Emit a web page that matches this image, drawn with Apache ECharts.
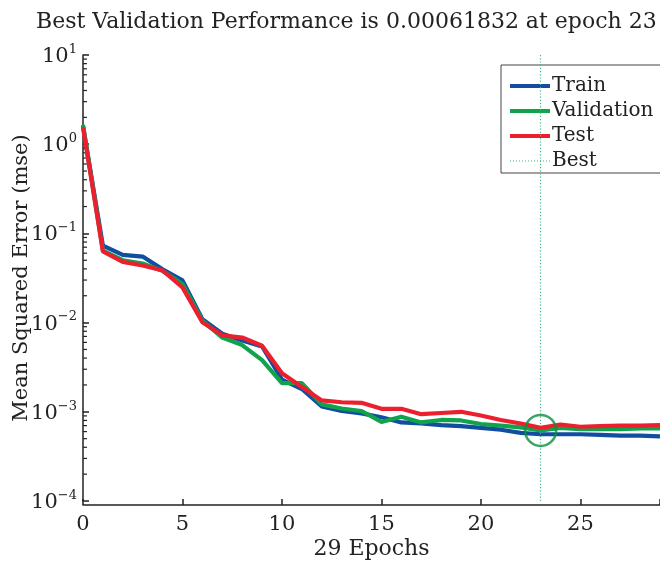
<!DOCTYPE html>
<html>
<head>
<meta charset="utf-8">
<script src="https://cdn.jsdelivr.net/npm/echarts@6/dist/echarts.min.js"></script>
<style>html,body{margin:0;padding:0;background:#fff}#c{width:660px;height:564px}</style>
</head>
<body>
<div id="c"></div>
<script>
const epochs = [0,1,2,3,4,5,6,7,8,9,10,11,12,13,14,15,16,17,18,19,20,21,22,23,24,25,26,27,28,29];
const train = [1.6,0.073,0.0575,0.055,0.0395,0.0297,0.0109,0.0075,0.0063,0.0054,0.0023,0.0018,0.00115,0.00102,0.00096,0.00087,0.00076,0.00074,0.00071,0.00069,0.00066,0.00063,0.00058,0.00056,0.00056,0.00056,0.00055,0.00054,0.00054,0.00053];
const validation = [1.65,0.064,0.05,0.046,0.038,0.027,0.0105,0.0068,0.0056,0.0038,0.0021,0.0021,0.00121,0.00109,0.00102,0.00077,0.00088,0.00076,0.00081,0.0008,0.00073,0.0007,0.00067,0.00061832,0.00066,0.00064,0.00064,0.00064,0.00065,0.00065];
const test = [1.55,0.063,0.048,0.0436,0.0385,0.0248,0.0101,0.0072,0.0068,0.0055,0.0027,0.0019,0.00134,0.00128,0.00126,0.00108,0.00108,0.00094,0.00097,0.001,0.00091,0.00081,0.00074,0.00066,0.00072,0.00068,0.00069,0.0007,0.0007,0.00071];
const bestEpoch = 23;
const bestValue = 0.00061832;
const xTicks = [0,5,10,15,20,25];
const yDecades = [-4,-3,-2,-1,0,1];
const titleText = 'Best Validation Performance is 0.00061832 at epoch 23';
const xName = '29 Epochs';
const yName = 'Mean Squared Error (mse)';
const legendNames = ['Train', 'Validation', 'Test', 'Best'];

// minor tick positions on the log axis (2..9 x 10^n)
const minorTicks = [];
for (let d = -4; d < 1; d++) for (let k = 2; k <= 9; k++) minorTicks.push([0, k * Math.pow(10, d)]);

const FONT = 'DejaVu Serif';
const TXT = '#222';
const sup = {'-4':'−4','-3':'−3','-2':'−2','-1':'−1','0':'0','1':'1'};

const solidIcon = 'path://M0,0H40V4H0Z';
let dots = '';
for (let i = 0; i < 40; i += 3) dots += 'M' + i + ',0h1v1h-1z';
const dottedIcon = 'path://' + dots;

const chart = echarts.init(document.getElementById('c'));
const pairs = arr => epochs.map((e, i) => [e, arr[i]]);
chart.setOption({
  animation: false,
  backgroundColor: '#fff',
  textStyle: {fontFamily: FONT},
  title: {
    text: titleText, left: 31, top: 6,
    textStyle: {fontFamily: FONT, fontSize: 22, fontWeight: 'normal', color: TXT}
  },
  legend: {
    data: [
      {name: legendNames[0], icon: solidIcon},
      {name: legendNames[1], icon: solidIcon},
      {name: legendNames[2], icon: solidIcon},
      {name: legendNames[3], icon: dottedIcon}
    ],
    orient: 'vertical', left: 501, top: 65,
    padding: [11, 20, 2, 9], itemGap: 5, itemWidth: 40, itemHeight: 20,
    borderColor: '#444', borderWidth: 1, backgroundColor: '#fff',
    textStyle: {fontFamily: FONT, fontSize: 20, color: TXT, lineHeight: 20, padding: [0,0,0,-3]}
  },
  grid: {left: 83, right: 0, top: 55, bottom: 63, containLabel: false, outerBoundsMode: 'none'},
  xAxis: {
    type: 'value', min: 0, max: 29, interval: 5, offset: 4,
    name: xName, nameLocation: 'middle', nameGap: 33, nameMoveOverlap: false,
    nameTextStyle: {fontFamily: FONT, fontSize: 22, color: TXT},
    axisLine: {lineStyle: {color: '#222', width: 1.5}},
    axisTick: {inside: true, length: 6, lineStyle: {color: '#222', width: 1.5}},
    axisLabel: {fontFamily: FONT, fontSize: 21, color: TXT, margin: 9,
      formatter: v => xTicks.includes(v) ? String(v) : ''},
    splitLine: {show: false}
  },
  yAxis: {
    type: 'log', logBase: 10, min: 1e-4, max: 10, splitNumber: 5,
    name: yName, nameLocation: 'middle', nameGap: 51, nameRotate: 90, nameMoveOverlap: false,
    nameTextStyle: {fontFamily: FONT, fontSize: 21, color: TXT},
    axisLine: {lineStyle: {color: '#222', width: 1.5}},
    axisTick: {inside: true, length: 6, lineStyle: {color: '#222', width: 1.5}},
    axisLabel: {
      margin: 6, color: TXT,
      formatter: v => {
        const e = Math.round(Math.log10(v));
        if (!yDecades.includes(e)) return '';
        return '{b|10}{s|' + sup[String(e)] + '}';
      },
      rich: {
        b: {fontFamily: FONT, fontSize: 21, color: TXT, lineHeight: 24, verticalAlign: 'bottom'},
        s: {fontFamily: FONT, fontSize: 13, color: TXT, lineHeight: 24, verticalAlign: 'top'}
      }
    },
    splitLine: {show: false}
  },
  series: [
    {
      type: 'custom', name: 'minorTicks', silent: true, z: 5,
      data: minorTicks,
      renderItem: (params, api) => {
        const p = api.coord([api.value(0), api.value(1)]);
        return {type: 'line', shape: {x1: p[0], y1: p[1], x2: p[0] + 4, y2: p[1]},
                style: {stroke: '#222', lineWidth: 1.2}};
      }
    },
    {
      type: 'line', name: 'Best', data: [], symbol: 'none',
      lineStyle: {color: '#3dbb7f', width: 1.2, type: [1.2, 2]},
      itemStyle: {color: '#3dbb7f'},
      markLine: {
        silent: true, symbol: 'none', animation: false,
        label: {show: false},
        lineStyle: {color: '#3dbb7f', width: 1.2, type: [1.2, 2]},
        data: [{yAxis: bestValue}, {xAxis: bestEpoch}]
      }
    },
    {type: 'line', name: 'Train', data: pairs(train), symbol: 'none', z: 3,
     lineStyle: {color: '#124ea0', width: 4.2}, itemStyle: {color: '#124ea0'}},
    {type: 'line', name: 'Validation', data: pairs(validation), symbol: 'none', z: 4,
     lineStyle: {color: '#0fa34c', width: 4.2}, itemStyle: {color: '#0fa34c'}},
    {type: 'line', name: 'Test', data: pairs(test), symbol: 'none', z: 5,
     lineStyle: {color: '#ec1f2f', width: 4.2}, itemStyle: {color: '#ec1f2f'}},
    {type: 'scatter', name: 'bestPoint', data: [[bestEpoch, bestValue]], symbol: 'circle',
     symbolSize: 31, z: 6, silent: true,
     itemStyle: {color: 'rgba(0,0,0,0)', borderColor: '#0a8f42', borderWidth: 2.5}}
  ]
});
</script>
</body>
</html>
